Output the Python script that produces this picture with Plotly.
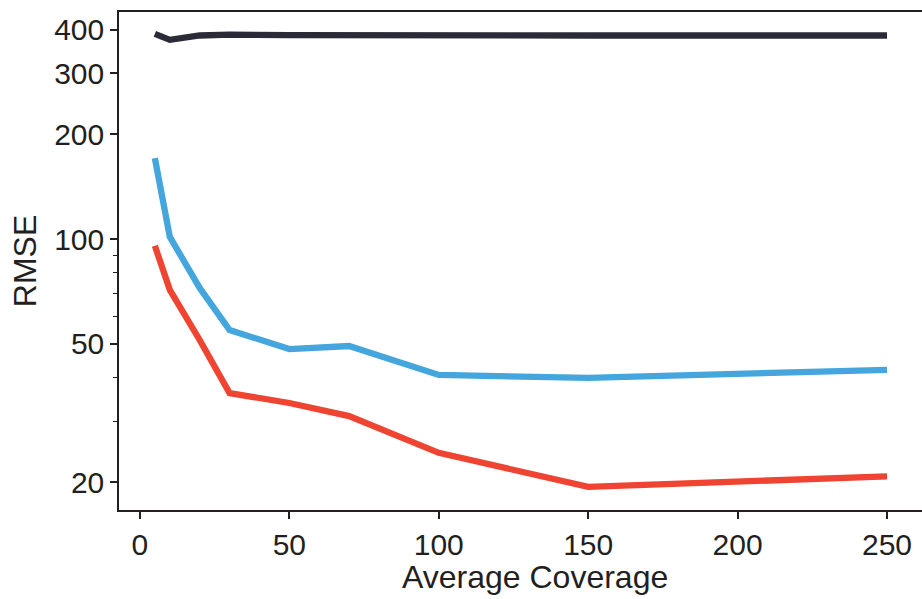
import plotly.graph_objects as go

coverage = [5, 10, 20, 30, 50, 70, 100, 150, 250]
rmse_black = [389, 374, 385, 387, 386, 385, 385, 385, 385]
rmse_blue = [171, 101.5, 72.4, 54.8, 48.3, 49.3, 40.7, 39.9, 42.1]
rmse_red = [95.7, 71.5, 51.3, 36.1, 33.8, 31.0, 24.3, 19.4, 20.8]

y_major = [20, 50, 100, 200, 300, 400]
y_minor = [30, 40, 60, 70, 80, 90]
x_ticks = [0, 50, 100, 150, 200, 250]

fig = go.Figure()
for ys, col in [(rmse_black, "#2b2a38"), (rmse_blue, "#44a6dc"), (rmse_red, "#ee4431")]:
    fig.add_trace(go.Scatter(x=coverage, y=ys, mode="lines",
                             line=dict(color=col, width=6.3), showlegend=False))

tickfont = dict(family="Liberation Sans", size=30, color="#231f20")
titlefont = dict(family="Liberation Sans", size=32, color="#231f20")
fig.update_layout(
    width=922, height=599,
    margin=dict(l=119, r=0, t=12, b=89),
    plot_bgcolor="white", paper_bgcolor="white",
    font=tickfont,
    xaxis=dict(range=[-7, 261.7], tickvals=x_ticks, ticks="outside", ticklen=7,
               tickwidth=1.5, tickcolor="#231f20", showline=True, linecolor="#231f20",
               linewidth=1.5, mirror=True, showgrid=False, zeroline=False,
               tickfont=tickfont),
    yaxis=dict(type="log", range=[1.2213, 2.653], tickvals=y_major,
               ticktext=[str(v) for v in y_major], ticks="outside", ticklen=7,
               tickwidth=1.5, tickcolor="#231f20", showline=True, linecolor="#231f20",
               linewidth=1.5, showgrid=False, zeroline=False,
               minor=dict(tickvals=y_minor, ticks="outside", ticklen=4, tickwidth=1.2,
                          tickcolor="#231f20", showgrid=False),
               title=dict(text="RMSE", standoff=8, font=titlefont), tickfont=tickfont),
    annotations=[dict(text="Average Coverage", xref="paper", yref="paper",
                      x=0.518, y=-0.134, xanchor="center", yanchor="middle",
                      showarrow=False, font=titlefont)],
)
fig.write_html("out.html")
